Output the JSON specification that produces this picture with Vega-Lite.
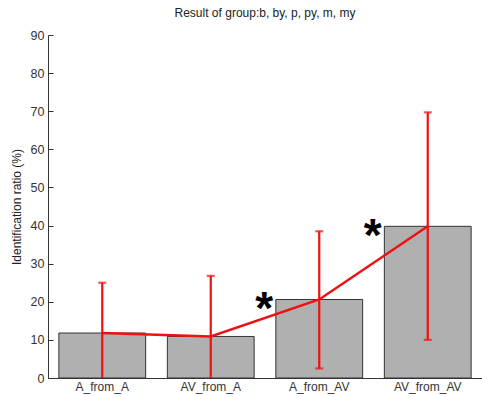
{
  "$schema": "https://vega.github.io/schema/vega-lite/v6.json",
  "width": 434,
  "height": 343,
  "autosize": "none",
  "padding": {"left": 48, "top": 35, "right": 0, "bottom": 19},
  "background": "white",
  "config": {
    "view": {"stroke": null},
    "axisY": {"tickCount": 10, "labelOverlap": false, "grid": false, "tickSize": -5, "tickColor": "#333", "domainColor": "#333", "labelFont": "Liberation Sans", "labelFontSize": 12.5, "labelColor": "#333", "labelPadding": 9, "titleFont": "Liberation Sans", "titleFontSize": 12, "titleFontWeight": "normal", "titleColor": "#222", "titlePadding": 7}
  },
  "title": {"text": "Result of group:b, by, p, py, m, my", "fontSize": 12, "font": "Liberation Sans", "fontWeight": "normal", "color": "#222", "offset": 9, "anchor": "middle"},
  "data": {"values": [
    {"cond": "A_from_A", "ratio": 11.8, "lo": 0, "hi": 25.0, "star": ""},
    {"cond": "AV_from_A", "ratio": 10.9, "lo": 0, "hi": 26.8, "star": ""},
    {"cond": "A_from_AV", "ratio": 20.6, "lo": 2.5, "hi": 38.5, "star": "*"},
    {"cond": "AV_from_AV", "ratio": 39.8, "lo": 10.0, "hi": 69.7, "star": "*"}
  ]},
  "encoding": {
    "x": {"field": "cond", "type": "nominal", "sort": null,
      "scale": {"paddingInner": 0.2, "paddingOuter": 0.1},
      "axis": {"title": null, "labelAngle": 0, "ticks": false, "labelFont": "Liberation Sans", "labelFontSize": 12, "labelColor": "#333", "domainColor": "#333", "labelPadding": 3}},
    "y": {"field": "ratio", "type": "quantitative",
       "scale": {"domain": [0, 90], "nice": false},
       "axis": {"title": "Identification ratio (%)", "values": [0,10,20,30,40,50,60,70,80,90]}}
  },
  "layer": [
    {"mark": {"type": "bar", "fill": "#b0b0b0", "stroke": "#333", "strokeWidth": 1}},
    {"mark": {"type": "rule", "color": "#f01010", "strokeWidth": 2.2},
     "encoding": {"y": {"field": "lo", "type": "quantitative", "title": "Identification ratio (%)"}, "y2": {"field": "hi"}}},
    {"mark": {"type": "tick", "color": "#f01010", "thickness": 2.2, "size": 8},
     "encoding": {"y": {"field": "hi", "type": "quantitative", "title": "Identification ratio (%)"}}},
    {"transform": [{"filter": "datum.lo > 0"}],
     "mark": {"type": "tick", "color": "#f01010", "thickness": 2.2, "size": 8},
     "encoding": {"y": {"field": "lo", "type": "quantitative", "title": "Identification ratio (%)"}}},
    {"mark": {"type": "line", "color": "#f01010", "strokeWidth": 2.5}},
    {"mark": {"type": "text", "fontSize": 46, "fontWeight": "bold", "font": "Liberation Sans", "color": "black", "dx": -55, "dy": 11, "baseline": "middle"},
     "encoding": {"text": {"field": "star"}}}
  ]
}
